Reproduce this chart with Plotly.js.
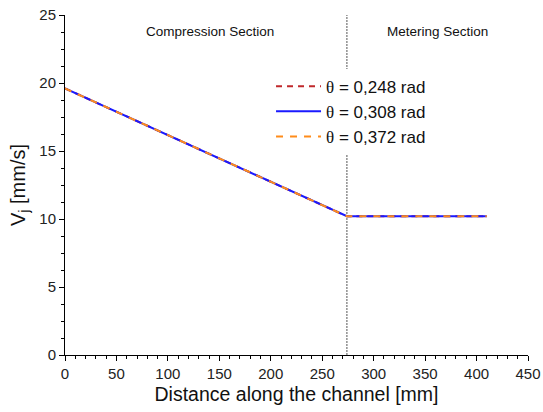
<!DOCTYPE html>
<html><head><meta charset="utf-8">
<script src="https://cdn.plot.ly/plotly-3.0.1.min.js"></script>
<style>html,body{margin:0;padding:0;background:#fff}</style>
</head><body><div id="chart" style="width:543px;height:412px"></div>
<script>
const distance = [0, 274, 410];
const v248 = [19.6, 10.2, 10.2];
const v308 = [19.6, 10.2, 10.2];
const v372 = [19.6, 10.2, 10.2];
const seriesNames = ['θ = 0,248 rad', 'θ = 0,308 rad', 'θ = 0,372 rad'];
const boundaryX = 274;
const sectionLabels = ['Compression Section', 'Metering Section'];
const sectionCenters = [141, 362];

const th = n => n.replace('θ', '<span style="font-family:Liberation Serif">θ</span>');
const traces = [
  {x: distance, y: v248, name: th(seriesNames[0]), mode: 'lines', line: {color: '#c0282b', width: 2, dash: '6px,5px'}},
  {x: distance, y: v308, name: th(seriesNames[1]), mode: 'lines', line: {color: '#1a1aff', width: 2}},
  {x: distance, y: v372, name: th(seriesNames[2]), mode: 'lines', line: {color: '#ff8c1a', width: 2, dash: '7px,7px'}}
];
const axisCommon = {
  showgrid: false, zeroline: false, showline: true, linecolor: '#000', linewidth: 1,
  ticks: 'outside', ticklen: 5, tickcolor: '#000', tickwidth: 1,
  tickfont: {family: 'Liberation Sans, Arial', size: 15, color: '#222'}
};
const layout = {
  width: 543, height: 412,
  margin: {l: 65, r: 15, t: 15, b: 57},
  paper_bgcolor: '#fff', plot_bgcolor: '#fff',
  showlegend: true,
  legend: {x: 0.445, y: 0.842, xanchor: 'left', yanchor: 'top', bgcolor: '#fff',
    font: {family: 'Liberation Sans, Arial', size: 17, color: '#111'},
    itemwidth: 45, tracegroupgap: 0},
  xaxis: Object.assign({}, axisCommon, {range: [0, 450], dtick: 50, tick0: 0,
    minor: {dtick: 10, ticks: 'outside', ticklen: 3, tickcolor: '#000'},
    title: {text: 'Distance along the channel [mm]', font: {family: 'Liberation Sans, Arial', size: 19.5, color: '#111'}, standoff: 6}}),
  yaxis: Object.assign({}, axisCommon, {range: [0, 25], dtick: 5, tick0: 0,
    minor: {dtick: 1.25, ticks: 'outside', ticklen: 3, tickcolor: '#000'},
    title: {text: 'V<sub>j</sub> [mm/s]', font: {family: 'Liberation Sans, Arial', size: 20, color: '#111'}, standoff: 8}}),
  shapes: [{type: 'line', xref: 'x', yref: 'y', x0: boundaryX, x1: boundaryX, y0: 0, y1: 25,
    line: {color: '#555', width: 1, dash: '2px,1px'}, layer: 'below'}],
  annotations: sectionLabels.map((t, i) => ({x: sectionCenters[i], y: 23.8, xref: 'x', yref: 'y',
    text: t, showarrow: false, font: {family: 'Liberation Sans, Arial', size: 13.5, color: '#111'}}))
};
Plotly.newPlot('chart', traces, layout, {displayModeBar: false, staticPlot: true});
</script></body></html>
